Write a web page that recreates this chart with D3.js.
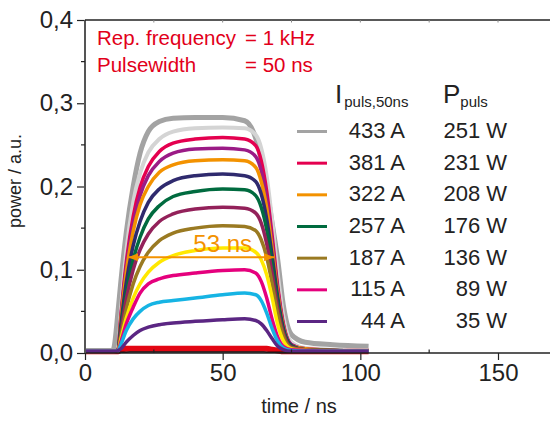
<!DOCTYPE html>
<html><head><meta charset="utf-8">
<script src="https://cdn.jsdelivr.net/npm/d3@7"></script>
<style>
html,body{margin:0;padding:0;background:#fff;}
svg{display:block;font-family:"Liberation Sans",Arial,Helvetica,sans-serif;}
</style></head>
<body>
<svg id="chart" width="550" height="421"></svg>
<script>
// ---- data ----
const timeNs = [0, 10, 10.5, 12, 13, 15, 17.5, 20, 23, 27, 32, 40, 50, 58, 62, 64, 66, 68, 70, 72, 75, 80, 90, 103];

const grayA433   = [0.003,0.003,0.006,0.050,0.085,0.145,0.200,0.240,0.266,0.278,0.282,0.283,0.283,0.279,0.258,0.232,0.197,0.155,0.112,0.058,0.022,0.013,0.010,0.008];
const lightGray  = [0.002,0.002,0.002,0.003,0.049,0.122,0.181,0.216,0.241,0.257,0.266,0.270,0.271,0.270,0.262,0.246,0.212,0.158,0.095,0.045,0.013,0.006,0.004,0.003];
const crimsonA381= [0.002,0.002,0.002,0.003,0.043,0.109,0.164,0.199,0.224,0.242,0.252,0.257,0.259,0.257,0.249,0.231,0.194,0.140,0.080,0.036,0.010,0.005,0.003,0.002];
const violet     = [0.002,0.002,0.002,0.003,0.041,0.103,0.155,0.189,0.213,0.230,0.240,0.245,0.246,0.244,0.236,0.219,0.185,0.133,0.076,0.034,0.010,0.005,0.003,0.002];
const orangeA322 = [0.002,0.002,0.002,0.003,0.038,0.097,0.146,0.178,0.200,0.217,0.226,0.231,0.232,0.231,0.223,0.206,0.174,0.125,0.072,0.032,0.009,0.005,0.003,0.002];
const navy       = [0.002,0.002,0.002,0.003,0.033,0.085,0.129,0.158,0.181,0.197,0.207,0.213,0.215,0.213,0.206,0.191,0.161,0.116,0.067,0.030,0.009,0.004,0.003,0.002];
const greenA257  = [0.002,0.002,0.002,0.003,0.028,0.073,0.112,0.139,0.161,0.177,0.188,0.194,0.197,0.196,0.189,0.175,0.148,0.106,0.061,0.028,0.008,0.004,0.003,0.002];
const maroon     = [0.002,0.002,0.002,0.003,0.025,0.065,0.100,0.124,0.143,0.158,0.167,0.173,0.175,0.174,0.168,0.156,0.131,0.095,0.054,0.025,0.007,0.004,0.003,0.002];
const oliveA187  = [0.002,0.002,0.002,0.003,0.020,0.053,0.083,0.104,0.121,0.135,0.144,0.150,0.153,0.152,0.147,0.136,0.115,0.083,0.047,0.021,0.006,0.004,0.003,0.002];
const yellow     = [0.002,0.002,0.002,0.003,0.016,0.042,0.066,0.083,0.097,0.109,0.117,0.123,0.126,0.126,0.121,0.112,0.094,0.066,0.034,0.015,0.005,0.003,0.002,0.002];
const magentaA115= [0.002,0.002,0.002,0.003,0.013,0.035,0.055,0.072,0.083,0.089,0.093,0.096,0.099,0.100,0.096,0.086,0.066,0.040,0.019,0.008,0.004,0.003,0.002,0.002];
const cyan       = [0.002,0.002,0.002,0.003,0.010,0.027,0.041,0.050,0.057,0.061,0.063,0.066,0.070,0.072,0.070,0.063,0.048,0.029,0.014,0.006,0.003,0.002,0.002,0.002];
const purpleA44  = [0.002,0.002,0.002,0.003,0.005,0.013,0.021,0.027,0.031,0.034,0.036,0.038,0.040,0.041,0.039,0.035,0.027,0.017,0.008,0.004,0.002,0.002,0.002,0.002];
const redLow     = [0.002,0.002,0.002,0.002,0.004,0.005,0.005,0.005,0.005,0.005,0.005,0.005,0.005,0.005,0.005,0.005,0.005,0.004,0.003,0.002,0.002,0.002,0.002,0.002];
const blackLow   = [0.001,0.001,0.001,0.001,0.001,0.001,0.0012,0.0012,0.0012,0.0012,0.0012,0.0012,0.0012,0.0012,0.0012,0.0012,0.001,0.001,0.001,0.001,0.001,0.001,0.001,0.001];

const legendCurrent = ["433 A","381 A","322 A","257 A","187 A","115 A","44 A"];
const legendPower   = ["251 W","231 W","208 W","176 W","136 W","89 W","35 W"];

const xTicks = [0, 50, 100, 150];
const yTicks = [0, 0.1, 0.2, 0.3, 0.4];

// ---- styles (separate from data); drawn back to front ----
const series = [
  {v: redLow,      c: "#e30613", w: 6},
  {v: blackLow,    c: "#111111", w: 1.5},
  {v: grayA433,    c: "#a3a3a3", w: 5},
  {v: lightGray,   c: "#d4d4d4", w: 4},
  {v: crimsonA381, c: "#e4004f", w: 3.5},
  {v: violet,      c: "#9b1b86", w: 3.5},
  {v: orangeA322,  c: "#f39200", w: 3.5},
  {v: navy,        c: "#2f2a6e", w: 3.5},
  {v: greenA257,   c: "#006b3f", w: 3.5},
  {v: maroon,      c: "#93215a", w: 3.5},
  {v: oliveA187,   c: "#9a7a22", w: 3.5},
  {v: yellow,      c: "#ffe800", w: 3.5},
  {v: magentaA115, c: "#e5007d", w: 3.5},
  {v: cyan,        c: "#16b4e4", w: 3.5},
  {v: purpleA44,   c: "#5b2683", w: 3.5}
];
const legendColors = ["#a3a3a3","#e4004f","#f39200","#006b3f","#9a7a22","#e5007d","#5b2683"];

const svg = d3.select("#chart");
const x = d3.scaleLinear().domain([0, 150]).range([85, 498]);
const y = d3.scaleLinear().domain([0, 0.4]).range([353, 20]);

// curves
const line = d3.line().x(d => x(d[0])).y(d => y(d[1])).curve(d3.curveMonotoneX);
const gCurves = svg.append("g");
series.forEach(s => {
  gCurves.append("path")
    .datum(timeNs.map((t, i) => [t, s.v[i]]))
    .attr("fill", "none").attr("stroke", s.c).attr("stroke-width", s.w)
    .attr("stroke-linejoin", "round").attr("d", line);
});

// axes
const axisColor = "#222";
const gx = svg.append("g").attr("transform", `translate(0,${y(0)})`)
  .call(d3.axisBottom(x).tickValues(xTicks).tickSize(7).tickPadding(4).tickFormat(d3.format("d")));
gx.select(".domain").remove();
gx.append("line").attr("x1", x(0)).attr("x2", 550).attr("y1", 0).attr("y2", 0).attr("stroke", axisColor).attr("stroke-width", 1.5);
gx.selectAll(".tick line").attr("stroke", axisColor).attr("stroke-width", 1.2);
gx.selectAll(".tick text").attr("font-size", 24).attr("fill", "#222").attr("font-family", "Liberation Sans, Arial, sans-serif");
gx.selectAll(".minor").data([25, 75, 125]).enter().append("line")
  .attr("x1", d => x(d)).attr("x2", d => x(d)).attr("y1", 0).attr("y2", -3.5)
  .attr("stroke", axisColor).attr("stroke-width", 1.2);

const gy = svg.append("g").attr("transform", `translate(${x(0)},0)`)
  .call(d3.axisLeft(y).tickValues(yTicks).tickSize(8).tickPadding(4).tickFormat(d => d3.format(".1f")(d).replace(".", ",")));
gy.select(".domain").remove();
gy.append("line").attr("x1", 0).attr("x2", 0).attr("y1", y(0)).attr("y2", y(0.4)).attr("stroke", "#555").attr("stroke-width", 2);
gy.selectAll(".tick line").attr("stroke", axisColor).attr("stroke-width", 1.2);
gy.selectAll(".tick text").attr("font-size", 24).attr("fill", "#222").attr("font-family", "Liberation Sans, Arial, sans-serif");
gy.selectAll(".minor").data([0.05, 0.15, 0.25, 0.35]).enter().append("line")
  .attr("x1", 0).attr("x2", -4).attr("y1", d => y(d)).attr("y2", d => y(d))
  .attr("stroke", axisColor).attr("stroke-width", 1.2);

// top frame line
const gt = svg.append("g");
gt.append("line").attr("x1", x(0)).attr("x2", 550).attr("y1", y(0.4)).attr("y2", y(0.4)).attr("stroke", axisColor).attr("stroke-width", 1.3);
gt.selectAll("line.t").data([25, 50, 75, 100, 125, 150]).enter().append("line")
  .attr("x1", d => x(d)).attr("x2", d => x(d)).attr("y1", y(0.4)).attr("y2", y(0.4) + 2.5)
  .attr("stroke", "#888").attr("stroke-width", 1);

// axis titles
svg.append("text").attr("x", 299).attr("y", 413).attr("text-anchor", "middle")
  .attr("font-size", 20).attr("fill", "#222").text("time / ns");
svg.append("text").attr("transform", "translate(21,181) rotate(-90)").attr("text-anchor", "middle")
  .attr("font-size", 18).attr("fill", "#222").text("power / a.u.");

// red annotation
const red = "#e2001a";
svg.append("text").attr("x", 97).attr("y", 45).attr("font-size", 20.5).attr("fill", red).text("Rep. frequency");
svg.append("text").attr("x", 245).attr("y", 45).attr("font-size", 20.5).attr("fill", red).text("= 1 kHz");
svg.append("text").attr("x", 97).attr("y", 72).attr("font-size", 20.5).attr("fill", red).text("Pulsewidth");
svg.append("text").attr("x", 245).attr("y", 72).attr("font-size", 20.5).attr("fill", red).text("= 50 ns");

// 53 ns arrow
const arrowColor = "#f39200";
const defs = svg.append("defs");
defs.append("marker").attr("id", "ah").attr("viewBox", "0 0 10 10").attr("refX", 10).attr("refY", 5)
  .attr("markerWidth", 5).attr("markerHeight", 5).attr("orient", "auto-start-reverse")
  .append("path").attr("d", "M0,1 L10,5 L0,9 Z").attr("fill", arrowColor);
svg.append("line").attr("x1", x(15.7)).attr("x2", x(68.7)).attr("y1", y(0.115)).attr("y2", y(0.115))
  .attr("stroke", arrowColor).attr("stroke-width", 2)
  .attr("marker-start", "url(#ah)").attr("marker-end", "url(#ah)");
svg.append("text").attr("x", x(50)).attr("y", 252).attr("text-anchor", "middle")
  .attr("font-size", 24).attr("fill", arrowColor).text("53 ns");

// legend
const hdr = svg.append("g").attr("fill", "#222");
const h1 = hdr.append("text").attr("x", 335).attr("y", 103);
h1.append("tspan").attr("font-size", 26).text("I");
h1.append("tspan").attr("font-size", 15).attr("dy", 4).attr("dx", 2).text("puls,50ns");
const h2 = hdr.append("text").attr("x", 443).attr("y", 103);
h2.append("tspan").attr("font-size", 26).text("P");
h2.append("tspan").attr("font-size", 15).attr("dy", 4).attr("dx", 0).text("puls");

const rowY = d3.scaleLinear().domain([0, 6]).range([138, 328]);
const leg = svg.append("g");
legendCurrent.forEach((lab, i) => {
  const by = rowY(i);
  leg.append("line").attr("x1", 297).attr("x2", 327).attr("y1", by - 6.5).attr("y2", by - 6.5)
    .attr("stroke", legendColors[i]).attr("stroke-width", 3);
  leg.append("text").attr("x", 405).attr("y", by).attr("text-anchor", "end")
    .attr("font-size", 22).attr("fill", "#222").text(lab);
  leg.append("text").attr("x", 507).attr("y", by).attr("text-anchor", "end")
    .attr("font-size", 22).attr("fill", "#222").text(legendPower[i]);
});
</script>
</body></html>
